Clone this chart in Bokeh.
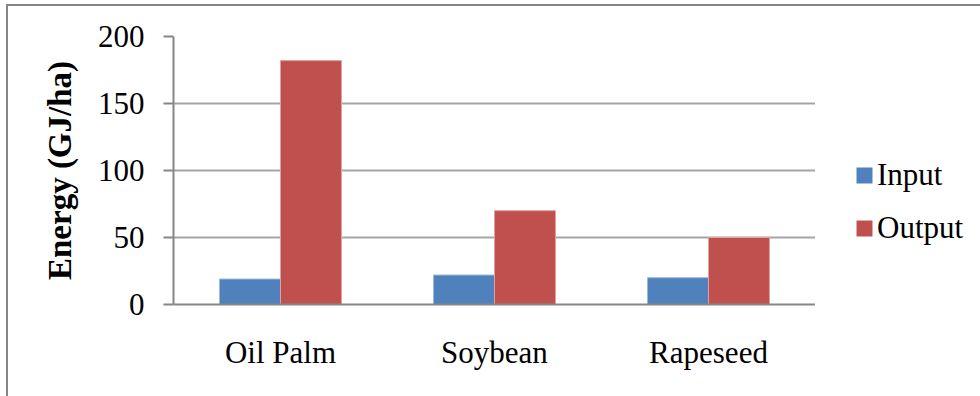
from bokeh.plotting import figure
from bokeh.layouts import row
from bokeh.models import (Range1d, FactorRange, FixedTicker, Legend, LegendItem,
                          ColumnDataSource)
from bokeh.transform import dodge
from bokeh.embed import file_html
from bokeh.resources import INLINE

# Energy balance per hectare for three oil crops
crops = ["Oil Palm", "Soybean", "Rapeseed"]
energy_input = [19, 22, 20]
energy_output = [182, 70, 50]
series_names = ["Input", "Output"]
y_ticks = [0, 50, 100, 150, 200]

source = ColumnDataSource(dict(crop=crops, inp=energy_input, out=energy_output))

FONT = "Liberation Serif"
AXIS_GREY = "#868686"
COLORS = ["#4F81BD", "#C0504D"]
EDGES = ["#9db8da", "#e0a09e"]

p = figure(
    x_range=FactorRange(*crops),
    y_range=Range1d(0, 200),
    width=807, height=390,
    output_backend="svg", toolbar_location=None,
    min_border_left=165, min_border_right=0,
    min_border_top=30, min_border_bottom=92,
)
p.outline_line_color = None
p.background_fill_color = "white"
p.border_fill_color = "white"

bar_w = 0.285
p.vbar(x=dodge("crop", -bar_w / 2, range=p.x_range), top="inp", width=bar_w,
       source=source, fill_color=COLORS[0], line_color=EDGES[0], line_width=1)
p.vbar(x=dodge("crop", bar_w / 2, range=p.x_range), top="out", width=bar_w,
       source=source, fill_color=COLORS[1], line_color=EDGES[1], line_width=1)

# grid
p.xgrid.visible = False
p.ygrid.grid_line_color = "#a5a5a5"
p.ygrid.grid_line_width = 2

# y axis
p.yaxis.ticker = FixedTicker(ticks=y_ticks)
p.yaxis.minor_tick_line_color = None
p.yaxis.major_tick_in = 0
p.yaxis.major_tick_out = 10
p.yaxis.major_tick_line_color = AXIS_GREY
p.yaxis.major_tick_line_width = 2
p.yaxis.axis_line_color = AXIS_GREY
p.yaxis.axis_line_width = 2
p.yaxis.major_label_text_font = FONT
p.yaxis.major_label_text_font_size = "31px"
p.yaxis.major_label_text_color = "black"
p.yaxis.major_label_standoff = 19
p.yaxis.axis_label = "Energy (GJ/ha)"
p.yaxis.axis_label_text_font = FONT
p.yaxis.axis_label_text_font_size = "33px"
p.yaxis.axis_label_text_font_style = "bold"
p.yaxis.axis_label_text_color = "black"
p.yaxis.axis_label_standoff = 17

# x axis
p.xaxis.major_tick_in = 0
p.xaxis.major_tick_out = 0
p.xaxis.axis_line_color = AXIS_GREY
p.xaxis.axis_line_width = 2
p.xaxis.major_label_text_font = FONT
p.xaxis.major_label_text_font_size = "31px"
p.xaxis.major_label_text_color = "black"
p.xaxis.major_label_standoff = 30

# legend panel to the right of the plot area
lp = figure(
    x_range=Range1d(0, 1), y_range=Range1d(0, 1),
    width=165, height=390,
    output_backend="svg", toolbar_location=None,
    min_border_left=0, min_border_right=0, min_border_top=0, min_border_bottom=0,
)
lp.axis.visible = False
lp.grid.visible = False
lp.outline_line_color = None
lp.background_fill_color = "white"
lp.border_fill_color = "white"

# key swatches: the renderers sit outside the visible range, only the legend shows them
keys = []
for name, fc, lc in zip(series_names, COLORS, EDGES):
    r = lp.vbar(x=[5], top=[5], bottom=[4], width=0.1,
                fill_color=fc, line_color=None)
    keys.append(LegendItem(label=name, renderers=[r]))

legend = Legend(
    items=keys,
    location=(39, 58),
    orientation="vertical",
    glyph_width=20, glyph_height=20,
    label_text_font=FONT, label_text_font_size="31px", label_text_color="black",
    label_standoff=3, spacing=17, padding=0, margin=0,
    border_line_color=None, background_fill_alpha=0,
)
lp.add_layout(legend, "center")

chart = row(p, lp, spacing=0)
chart.styles = {
    "margin-left": "6px", "margin-top": "4px",
    "border-left": f"2px solid {AXIS_GREY}",
    "border-top": f"2px solid {AXIS_GREY}",
}

open("out.html", "w").write(file_html(chart, INLINE))
